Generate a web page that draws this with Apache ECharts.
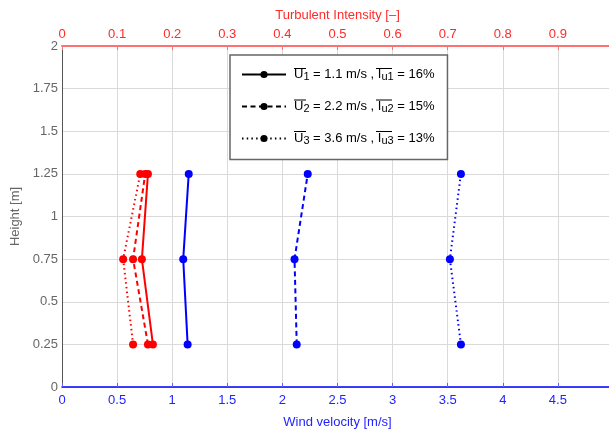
<!DOCTYPE html>
<html><head><meta charset="utf-8">
<script src="https://cdn.jsdelivr.net/npm/echarts@6/dist/echarts.min.js"></script>
<style>html,body{margin:0;padding:0;background:#fff}#c{width:609px;height:432px}</style>
</head><body><div id="c"></div>
<script>
// ---- data ----
const heights = [0.25, 0.75, 1.25];
const windU1 = [1.14, 1.10, 1.15];
const windU2 = [2.13, 2.11, 2.23];
const windU3 = [3.62, 3.52, 3.62];
const tiU1 = [0.165, 0.145, 0.156];
const tiU2 = [0.156, 0.129, 0.151];
const tiU3 = [0.129, 0.111, 0.142];
const meanU = ['1.1', '2.2', '3.6'];
const meanTI = ['16%', '15%', '13%'];
const caseIdx = ['1', '2', '3'];

// ---- styles ----
const FONT = "'Liberation Sans', Arial, sans-serif";
const BLUE = '#0000ff', RED = '#ff0000';
const dashes = ['solid', [5, 3.5], [1.5, 3.2]];
const legendNames = ['case1', 'case2', 'case3'];

const pairs = (xs) => xs.map((x, i) => [x, heights[i]]);
const windSets = [windU1, windU2, windU3];
const tiSets = [tiU1, tiU2, tiU3];

const series = [];
windSets.forEach((w, k) => {
  series.push({
    name: legendNames[k], type: 'line', xAxisIndex: 0, yAxisIndex: 0,
    data: pairs(w), symbol: 'circle', symbolSize: 8,
    lineStyle: { color: BLUE, width: 2, type: dashes[k] },
    itemStyle: { color: BLUE }, z: 3
  });
});
tiSets.forEach((t, k) => {
  series.push({
    name: 'ti' + k, type: 'line', xAxisIndex: 1, yAxisIndex: 0,
    data: pairs(t), symbol: 'circle', symbolSize: 8,
    lineStyle: { color: RED, width: 2, type: dashes[k] },
    itemStyle: { color: RED }, z: 3
  });
});

// overlines for legend text (U and I bars)
const rowY = [75, 106.5, 138];
const overlines = [];
rowY.forEach(y => {
  overlines.push({ type: 'line', shape: { x1: 294, y1: y - 6.5, x2: 306, y2: y - 6.5 }, style: { stroke: '#000', lineWidth: 1 }, z: 200 });
  overlines.push({ type: 'line', shape: { x1: 376, y1: y - 6.5, x2: 392, y2: y - 6.5 }, style: { stroke: '#000', lineWidth: 1 }, z: 200 });
});

const option = {
  animation: false,
  textStyle: { fontFamily: FONT },
  grid: { left: 62, right: -4, top: 46, bottom: 45, outerBoundsMode: 'none', containLabel: false },
  xAxis: [{
    type: 'value', position: 'bottom', min: 0, max: 5, interval: 0.5,
    name: 'Wind velocity [m/s]', nameLocation: 'middle', nameGap: 29,
    nameTextStyle: { color: '#2323ff', fontSize: 13, fontFamily: FONT },
    axisLine: { show: true, onZero: false, lineStyle: { color: BLUE, width: 1.5 } },
    axisTick: { show: true, inside: true, length: 4, lineStyle: { color: '#6060ff' } },
    axisLabel: { color: '#2323ff', fontSize: 13, margin: 7, showMaxLabel: false, fontFamily: FONT },
    splitLine: { show: true, lineStyle: { color: '#dadada', width: 1 } }
  }, {
    type: 'value', position: 'top', min: 0, max: 1, interval: 0.1,
    name: 'Turbulent Intensity [–]', nameLocation: 'middle', nameGap: 24,
    nameTextStyle: { color: '#ff2a2a', fontSize: 13, fontFamily: FONT },
    axisLine: { show: true, onZero: false, lineStyle: { color: '#ff7070', width: 2 } },
    axisTick: { show: true, inside: true, length: 4, lineStyle: { color: '#ff7070' } },
    axisLabel: { color: '#ff2a2a', fontSize: 13, margin: 5, showMaxLabel: false, fontFamily: FONT },
    splitLine: { show: false }
  }],
  yAxis: [{
    type: 'value', min: 0, max: 2, interval: 0.25,
    name: 'Height [m]', nameLocation: 'middle', nameGap: 37,
    nameTextStyle: { color: '#666', fontSize: 13, fontFamily: FONT },
    axisLine: { show: true, onZero: false, lineStyle: { color: '#555', width: 1 } },
    axisTick: { show: false },
    axisLabel: { color: '#666', fontSize: 13, margin: 4, fontFamily: FONT },
    splitLine: { show: true, lineStyle: { color: '#dadada', width: 1 } }
  }],
  legend: {
    left: 230, top: 55, orient: 'vertical', selectedMode: false,
    padding: [13, 13, 13, 11], itemGap: 17.5, itemWidth: 44, itemHeight: 9,
    backgroundColor: '#fff', borderColor: '#666', borderWidth: 1.5, borderRadius: 0,
    data: legendNames.map((n, k) => ({
      name: n,
      itemStyle: { color: '#000' },
      lineStyle: { color: '#000', width: 2, type: dashes[k] }
    })),
    formatter: (name) => {
      const k = legendNames.indexOf(name);
      return '{f|U}{s|' + caseIdx[k] + '}{m| = ' + meanU[k] + ' m/s , I}{s|u' + caseIdx[k] + '}{m| = ' + meanTI[k] + '}';
    },
    textStyle: {
      fontFamily: FONT, fontSize: 13, color: '#000',
      rich: {
        f: { fontSize: 13, fontFamily: FONT, color: '#000', lineHeight: 16, verticalAlign: 'middle', padding: [0, 0, 0, 3] },
        m: { fontSize: 13, fontFamily: FONT, color: '#000', lineHeight: 16, verticalAlign: 'middle' },
        s: { fontSize: 11, fontFamily: FONT, color: '#000', lineHeight: 16, verticalAlign: 'bottom' }
      }
    }
  },
  graphic: overlines,
  series: series
};

const chart = echarts.init(document.getElementById('c'), null, { renderer: 'canvas' });
chart.setOption(option);
</script>
</body></html>
